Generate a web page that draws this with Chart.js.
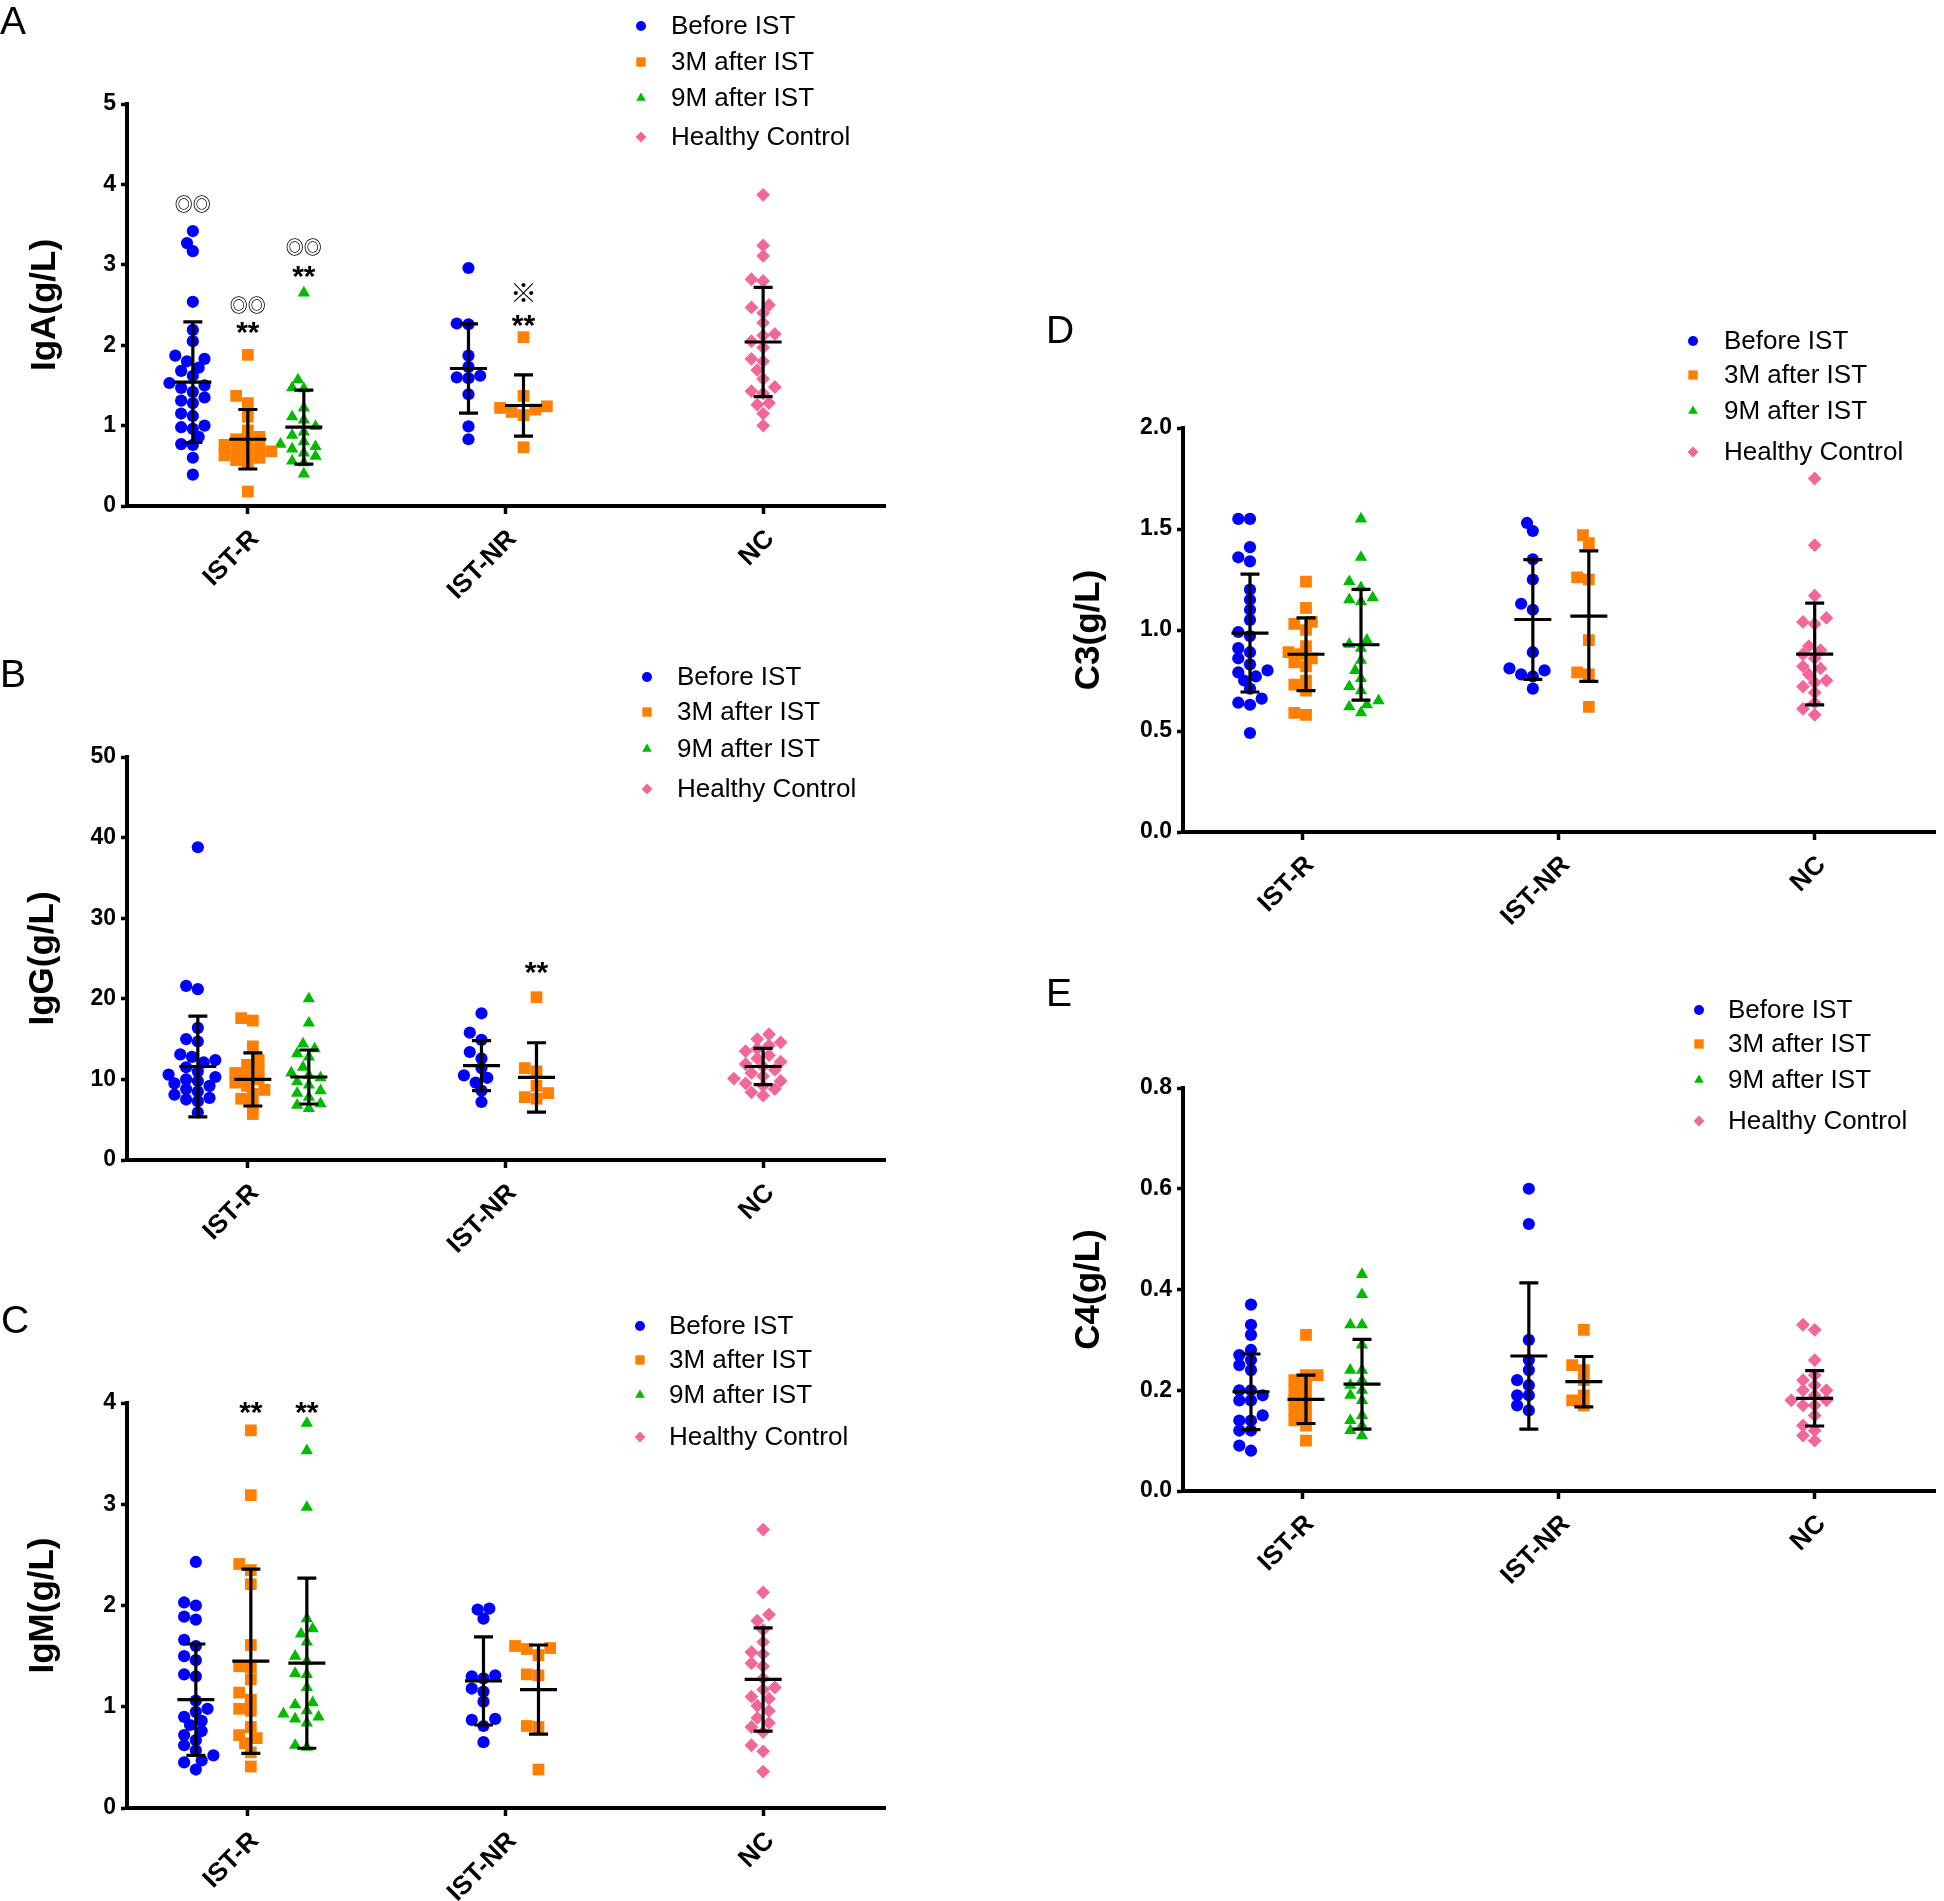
<!DOCTYPE html>
<html>
<head>
<meta charset="utf-8">
<title>IgA, IgG, IgM, C3 and C4 before and after IST</title>
<script src="https://cdn.jsdelivr.net/npm/chart.js@4.4.1/dist/chart.umd.min.js"></script>
<style>
  html, body { margin: 0; padding: 0; background: #fff; }
  #page { position: relative; width: 1944px; height: 1901px; overflow: hidden; background: #fff; }
  canvas { position: absolute; }
</style>
</head>
<body>
<div id="page">
  <canvas id="panelA" width="900" height="640" style="left:0px;top:0px"></canvas>
  <canvas id="panelB" width="900" height="650" style="left:0px;top:640px"></canvas>
  <canvas id="panelC" width="900" height="611" style="left:0px;top:1290px"></canvas>
  <canvas id="panelD" width="914" height="660" style="left:1030px;top:300px"></canvas>
  <canvas id="panelE" width="914" height="720" style="left:1030px;top:960px"></canvas>
</div>
<script>
const categories = ['IST-R', 'IST-NR', 'NC'];
const seriesNames = ['Before IST', '3M after IST', '9M after IST', 'Healthy Control'];

// each panel has six groups: IST-R before / 3M / 9M, IST-NR before / 3M, NC
const groupSeries = [0, 1, 2, 0, 1, 3];
const groupCategory = [0, 0, 0, 1, 1, 2];

// IgA (g/L)
const igaBeforeR = [3.42, 3.27, 3.17, 2.54, 2.19, 2.05, 1.87, 1.83, 1.80, 1.72, 1.68, 1.62, 1.53, 1.50, 1.47, 1.42, 1.35, 1.31, 1.28, 1.15, 1.12, 1.00, 0.98, 0.96, 0.86, 0.77, 0.76, 0.60, 0.39];
const igaM3R = [1.88, 1.37, 1.28, 1.11, 0.94, 0.86, 0.83, 0.80, 0.76, 0.72, 0.70, 0.68, 0.66, 0.63, 0.60, 0.57, 0.53, 0.18];
const igaM9R = [2.65, 1.57, 1.47, 1.46, 1.22, 1.11, 1.07, 0.99, 0.92, 0.88, 0.80, 0.77, 0.74, 0.71, 0.66, 0.62, 0.56, 0.54, 0.40];
const igaBeforeNR = [2.96, 2.27, 2.26, 1.87, 1.73, 1.62, 1.60, 1.59, 1.39, 0.99, 0.83];
const igaM3NR = [2.10, 1.37, 1.24, 1.22, 1.20, 1.17, 1.13, 0.73];
const igaNC = [3.87, 3.24, 3.11, 2.82, 2.80, 2.50, 2.47, 2.40, 2.28, 2.14, 2.12, 2.05, 1.97, 1.83, 1.80, 1.69, 1.58, 1.48, 1.43, 1.40, 1.28, 1.26, 1.15, 1.00];
const igaMean = [1.54, 0.83, 0.98, 1.71, 1.25, 2.04];
const igaSD = [0.75, 0.37, 0.46, 0.555, 0.38, 0.68];
const igaTicks = [0, 1, 2, 3, 4, 5];
const igaMarks = [[0, '◎◎', 3.76], [1, '◎◎', 2.50], [1, '**', 2.24], [2, '◎◎', 3.22], [2, '**', 2.94], [4, '※', 2.65], [4, '**', 2.33]];

// IgG (g/L)
const iggBeforeR = [38.8, 21.6, 21.2, 16.4, 15.0, 14.7, 13.1, 12.8, 12.4, 12.1, 11.5, 11.0, 10.6, 10.3, 10.0, 9.8, 9.5, 9.2, 8.8, 8.5, 8.1, 7.7, 7.5, 7.3, 5.9];
const iggM3R = [17.6, 17.3, 14.1, 12.4, 11.8, 11.2, 10.8, 10.4, 10.0, 9.6, 9.2, 8.7, 8.2, 7.6, 6.9, 5.7];
const iggM9R = [20.0, 17.0, 14.4, 13.8, 13.2, 12.8, 11.5, 10.8, 10.5, 10.2, 9.7, 9.3, 8.6, 8.3, 7.8, 7.0, 6.8, 6.4];
const iggBeforeNR = [18.2, 15.8, 14.9, 13.4, 12.6, 11.4, 10.5, 10.2, 9.6, 8.6, 7.2];
const iggM3NR = [20.2, 11.4, 11.0, 9.2, 8.3, 7.8, 7.6];
const iggNC = [15.6, 15.0, 14.6, 14.2, 13.8, 13.5, 13.0, 12.6, 12.2, 11.9, 11.6, 11.2, 10.8, 10.4, 10.1, 9.8, 9.5, 9.2, 8.8, 8.4, 8.0];
const iggMean = [11.6, 10.0, 10.3, 11.7, 10.25, 11.6];
const iggSD = [6.25, 3.3, 3.35, 3.1, 4.3, 2.25];
const iggTicks = [0, 10, 20, 30, 40, 50];
const iggMarks = [[4, '**', 24.1]];

// IgM (g/L)
const igmBeforeR = [2.43, 2.03, 2.00, 1.89, 1.86, 1.66, 1.60, 1.50, 1.46, 1.32, 1.30, 1.06, 0.98, 0.95, 0.90, 0.86, 0.82, 0.76, 0.72, 0.67, 0.62, 0.57, 0.52, 0.47, 0.45, 0.38];
const igmM3R = [3.73, 3.09, 2.41, 2.35, 2.21, 1.61, 1.40, 1.39, 1.27, 1.14, 1.07, 0.98, 0.96, 0.80, 0.72, 0.69, 0.64, 0.55, 0.41];
const igmM9R = [3.80, 3.53, 2.97, 1.87, 1.77, 1.72, 1.64, 1.50, 1.45, 1.33, 1.32, 1.19, 1.04, 1.02, 0.96, 0.93, 0.90, 0.88, 0.84, 0.62, 0.60];
const igmBeforeNR = [1.97, 1.96, 1.87, 1.31, 1.30, 1.28, 1.18, 1.15, 1.05, 0.88, 0.87, 0.81, 0.65];
const igmM3NR = [1.60, 1.58, 1.57, 1.51, 1.32, 1.31, 0.81, 0.80, 0.38];
const igmNC = [2.75, 2.13, 1.91, 1.85, 1.76, 1.64, 1.54, 1.52, 1.43, 1.40, 1.28, 1.19, 1.17, 1.10, 1.08, 1.01, 0.96, 0.89, 0.84, 0.80, 0.75, 0.62, 0.56, 0.36];
const igmMean = [1.07, 1.45, 1.43, 1.255, 1.17, 1.27];
const igmSD = [0.55, 0.91, 0.84, 0.435, 0.44, 0.51];
const igmTicks = [0, 1, 2, 3, 4];
const igmMarks = [[1, '**', 3.97], [2, '**', 3.97]];

// C3 (g/L)
const c3BeforeR = [1.55, 1.55, 1.41, 1.36, 1.34, 1.20, 1.15, 1.10, 1.05, 0.99, 0.97, 0.91, 0.89, 0.86, 0.83, 0.80, 0.79, 0.77, 0.75, 0.71, 0.66, 0.64, 0.63, 0.49];
const c3M3R = [1.24, 1.11, 1.04, 1.03, 1.00, 0.92, 0.89, 0.88, 0.86, 0.84, 0.82, 0.75, 0.73, 0.70, 0.59, 0.58];
const c3M9R = [1.55, 1.36, 1.24, 1.21, 1.16, 1.15, 1.14, 0.95, 0.93, 0.91, 0.85, 0.80, 0.76, 0.72, 0.70, 0.65, 0.63, 0.62, 0.59];
const c3BeforeNR = [1.53, 1.49, 1.35, 1.25, 1.13, 1.10, 0.89, 0.81, 0.80, 0.78, 0.77, 0.71];
const c3M3NR = [1.47, 1.43, 1.26, 1.25, 0.95, 0.79, 0.78, 0.62];
const c3NC = [1.75, 1.42, 1.17, 1.06, 1.04, 1.03, 0.92, 0.90, 0.88, 0.86, 0.82, 0.81, 0.78, 0.75, 0.74, 0.72, 0.69, 0.64, 0.61, 0.58];
const c3Mean = [0.985, 0.88, 0.927, 1.052, 1.069, 0.881];
const c3SD = [0.292, 0.18, 0.274, 0.296, 0.323, 0.252];
const c3Ticks = [0, 0.5, 1.0, 1.5, 2.0];

// C4 (g/L)
const c4BeforeR = [0.37, 0.33, 0.31, 0.28, 0.27, 0.26, 0.25, 0.24, 0.20, 0.20, 0.19, 0.18, 0.18, 0.15, 0.14, 0.14, 0.12, 0.12, 0.09, 0.08];
const c4M3R = [0.31, 0.23, 0.23, 0.22, 0.21, 0.20, 0.19, 0.18, 0.17, 0.16, 0.15, 0.14, 0.13, 0.10];
const c4M9R = [0.43, 0.39, 0.33, 0.33, 0.29, 0.24, 0.24, 0.22, 0.21, 0.20, 0.19, 0.18, 0.15, 0.14, 0.13, 0.12, 0.11];
const c4BeforeNR = [0.60, 0.53, 0.30, 0.26, 0.24, 0.22, 0.21, 0.19, 0.19, 0.17, 0.16];
const c4M3NR = [0.32, 0.25, 0.24, 0.22, 0.19, 0.18, 0.17];
const c4NC = [0.33, 0.32, 0.26, 0.23, 0.22, 0.21, 0.20, 0.20, 0.19, 0.18, 0.18, 0.17, 0.17, 0.15, 0.13, 0.12, 0.11, 0.10];
const c4Mean = [0.197, 0.182, 0.212, 0.268, 0.217, 0.184];
const c4SD = [0.075, 0.048, 0.089, 0.145, 0.05, 0.055];
const c4Ticks = [0, 0.2, 0.4, 0.6, 0.8];

// look
const FONT = "'Liberation Sans', Arial, sans-serif";
const seriesColors = ['#0000ff', '#ff7f00', '#00bb00', '#f2679a'];
const seriesShapes = ['circle', 'rect', 'triangle', 'rectRot'];
const seriesRadius = [6.1, 8.3, 7.1, 6.9];
const legendRadius = [5.0, 6.6, 5.6, 5.4];
const X_MIN = 0.531, X_MAX = 3.473;

const panels = [
  { id: 'panelA', letter: 'A', title: 'IgA(g/L)', groups: [igaBeforeR, igaM3R, igaM9R, igaBeforeNR, igaM3NR, igaNC],
    mean: igaMean, sd: igaSD, ticks: igaTicks, decimals: 0, marks: igaMarks,
    box: { left: 0, top: 0 }, area: { left: 127, top: 104, right: 885, bottom: 506 },
    slots: [-55, 0, 56, -37, 18, 0], titleX: 45, letterAt: [0, 34],
    legend: { mx: 641, tx: 671, ys: [26, 62, 98, 137] } },
  { id: 'panelB', letter: 'B', title: 'IgG(g/L)', groups: [iggBeforeR, iggM3R, iggM9R, iggBeforeNR, iggM3NR, iggNC],
    mean: iggMean, sd: iggSD, ticks: iggTicks, decimals: 0, marks: iggMarks,
    box: { left: 0, top: 640 }, area: { left: 127, top: 757, right: 885, bottom: 1160 },
    slots: [-50, 5, 61, -24, 31, 0], titleX: 43, letterAt: [0, 687],
    legend: { mx: 647, tx: 677, ys: [677, 712, 749, 789] } },
  { id: 'panelC', letter: 'C', title: 'IgM(g/L)', groups: [igmBeforeR, igmM3R, igmM9R, igmBeforeNR, igmM3NR, igmNC],
    mean: igmMean, sd: igmSD, ticks: igmTicks, decimals: 0, marks: igmMarks,
    box: { left: 0, top: 1290 }, area: { left: 127, top: 1403, right: 885, bottom: 1808 },
    slots: [-52, 3, 59, -22, 33, 0], titleX: 43, letterAt: [1, 1333],
    legend: { mx: 640, tx: 669, ys: [1326, 1360, 1395, 1437] } },
  { id: 'panelD', letter: 'D', title: 'C3(g/L)', groups: [c3BeforeR, c3M3R, c3M9R, c3BeforeNR, c3M3NR, c3NC],
    mean: c3Mean, sd: c3SD, ticks: c3Ticks, decimals: 1, marks: [],
    box: { left: 1030, top: 300 }, area: { left: 1183, top: 428, right: 1942, bottom: 832 },
    slots: [-53, 3, 58, -26, 30, 0], titleX: 1089, letterAt: [1046, 343],
    legend: { mx: 1693, tx: 1724, ys: [341, 375, 411, 452] } },
  { id: 'panelE', letter: 'E', title: 'C4(g/L)', groups: [c4BeforeR, c4M3R, c4M9R, c4BeforeNR, c4M3NR, c4NC],
    mean: c4Mean, sd: c4SD, ticks: c4Ticks, decimals: 1, marks: [],
    box: { left: 1030, top: 960 }, area: { left: 1183, top: 1088, right: 1942, bottom: 1491 },
    slots: [-52, 3, 59, -30, 25, 0], titleX: 1089, letterAt: [1046, 1006],
    legend: { mx: 1699, tx: 1728, ys: [1010, 1044, 1080, 1121] } }
];

function drawMarker(ctx, shape, r, x, y) {
  if (Chart.helpers && Chart.helpers.drawPoint) {
    Chart.helpers.drawPoint(ctx, { pointStyle: shape, radius: r, rotation: 0, borderWidth: 0 }, x, y);
  } else {
    ctx.beginPath(); ctx.arc(x, y, r, 0, Math.PI * 2); ctx.fill();
  }
}

// mean / SD bars, significance marks, rotated category labels, title, legend, letter
const panelDeco = {
  id: 'panelDeco',
  afterDatasetsDraw(chart, args, p) {
    const ctx = chart.ctx, xs = chart.scales.x, ys = chart.scales.y;
    ctx.save();
    ctx.strokeStyle = '#000';
    ctx.lineWidth = 3.2;
    p.mean.forEach((m, g) => {
      const cx = xs.getPixelForValue(groupCategory[g] + 1) + p.slots[g];
      const ym = ys.getPixelForValue(m);
      const yt = ys.getPixelForValue(m + p.sd[g]);
      const yb = ys.getPixelForValue(m - p.sd[g]);
      ctx.beginPath();
      ctx.moveTo(cx - 18.5, ym); ctx.lineTo(cx + 18.5, ym);
      ctx.moveTo(cx, yt); ctx.lineTo(cx, yb);
      ctx.moveTo(cx - 9.5, yt); ctx.lineTo(cx + 9.5, yt);
      ctx.moveTo(cx - 9.5, yb); ctx.lineTo(cx + 9.5, yb);
      ctx.stroke();
    });
    ctx.restore();
  },
  afterDraw(chart, args, p) {
    const ctx = chart.ctx, xs = chart.scales.x, ys = chart.scales.y, area = chart.chartArea;
    const ox = p.box.left, oy = p.box.top;
    ctx.save();
    ctx.fillStyle = '#000';

    // significance marks
    p.marks.forEach(([g, text, v]) => {
      const cx = xs.getPixelForValue(groupCategory[g] + 1) + p.slots[g];
      const cy = ys.getPixelForValue(v);
      ctx.textAlign = 'center';
      if (text === '**') {
        ctx.font = 'bold 30px ' + FONT;
        ctx.textBaseline = 'alphabetic';
        ctx.fillText(text, cx, cy + 16);
      } else {
        ctx.font = 'bold ' + (text === '※' ? '27px' : '18px') + " 'Noto Sans CJK SC', 'DejaVu Sans', sans-serif";
        ctx.textBaseline = 'middle';
        ctx.fillText(text, cx, cy);
      }
    });

    // category labels at 45 degrees
    ctx.font = 'bold 26px ' + FONT;
    ctx.textAlign = 'right';
    ctx.textBaseline = 'middle';
    categories.forEach((c, i) => {
      ctx.save();
      ctx.translate(xs.getPixelForValue(i + 1) + 7, area.bottom + 29);
      ctx.rotate(-Math.PI / 4);
      ctx.fillText(c, 0, 0);
      ctx.restore();
    });

    // y title
    ctx.save();
    ctx.font = 'bold 35px ' + FONT;
    ctx.textAlign = 'center';
    ctx.textBaseline = 'middle';
    ctx.translate(p.titleX - ox, (area.top + area.bottom) / 2);
    ctx.rotate(-Math.PI / 2);
    ctx.fillText(p.title, 0, 0);
    ctx.restore();

    // legend
    ctx.font = '26px ' + FONT;
    ctx.textAlign = 'left';
    ctx.textBaseline = 'middle';
    seriesNames.forEach((name, s) => {
      const y = p.legend.ys[s] - oy;
      ctx.fillStyle = seriesColors[s];
      drawMarker(ctx, seriesShapes[s], legendRadius[s], p.legend.mx - ox, y);
      ctx.fillStyle = '#000';
      ctx.fillText(name, p.legend.tx - ox, y + 1);
    });

    // panel letter
    ctx.font = '39px ' + FONT;
    ctx.textBaseline = 'alphabetic';
    ctx.fillText(p.letter, p.letterAt[0] - ox, p.letterAt[1] - oy);
    ctx.restore();
  }
};

// horizontal spread of points with close values (scatter dot plot style, overlap allowed)
function swarmOffsets(pixYs, size) {
  const order = pixYs.map((_, i) => i).sort((a, b) => pixYs[b] - pixYs[a]);
  const placed = [];
  const offs = [];
  order.forEach(i => {
    const y = pixYs[i];
    let k = 0, dx = 0;
    for (;;) {
      dx = (k % 2 ? -1 : 1) * Math.ceil(k / 2) * size * 0.9;
      if (placed.every(q => Math.hypot(q[0] - dx, q[1] - y) >= size * 1.45)) break;
      k++;
    }
    placed.push([dx, y]);
    offs[i] = dx;
  });
  return offs;
}

function buildPanel(p) {
  const canvas = document.getElementById(p.id);
  const yW = p.area.left - p.box.left;
  const xH = canvas.height - (p.area.bottom - p.box.top);

  const datasets = seriesNames.map((name, s) => ({
    label: name,
    data: [],
    pointStyle: seriesShapes[s],
    pointRadius: seriesRadius[s],
    pointBorderWidth: 0,
    backgroundColor: seriesColors[s],
    borderColor: seriesColors[s]
  }));
  p.groups.forEach((vals, g) => {
    vals.forEach(v => datasets[groupSeries[g]].data.push({ x: groupCategory[g] + 1, y: v }));
  });

  const gridOpts = (len) => ({
    display: true, drawOnChartArea: false, drawTicks: true,
    tickLength: len, tickWidth: 3.5, tickColor: '#000'
  });

  const chart = new Chart(canvas.getContext('2d'), {
    type: 'scatter',
    data: { datasets },
    options: {
      responsive: false,
      animation: false,
      events: [],
      layout: { padding: { left: 0, top: p.area.top - p.box.top, right: canvas.width - (p.area.right - p.box.left), bottom: 0 } },
      plugins: { legend: { display: false }, tooltip: { enabled: false }, panelDeco: p },
      scales: {
        x: {
          type: 'linear', min: X_MIN, max: X_MAX,
          afterBuildTicks: s => { s.ticks = categories.map((c, i) => ({ value: i + 1 })); },
          afterFit: s => { s.height = xH; },
          ticks: { display: false },
          grid: gridOpts(8),
          border: { display: true, color: '#000', width: 4 }
        },
        y: {
          min: p.ticks[0], max: p.ticks[p.ticks.length - 1],
          afterBuildTicks: s => { s.ticks = p.ticks.map(v => ({ value: v })); },
          afterFit: s => { s.width = yW; },
          ticks: {
            color: '#000', padding: 5,
            font: { family: FONT, size: 23, weight: 'bold' },
            callback: v => Number(v).toFixed(p.decimals)
          },
          grid: gridOpts(6),
          border: { display: true, color: '#000', width: 4 }
        }
      }
    },
    plugins: [panelDeco]
  });

  // second pass: spread overlapping points sideways using the real scales
  const xs = chart.scales.x, ys = chart.scales.y;
  datasets.forEach(ds => { ds.data = []; });
  p.groups.forEach((vals, g) => {
    const cx = xs.getPixelForValue(groupCategory[g] + 1) + p.slots[g];
    const offs = swarmOffsets(vals.map(v => ys.getPixelForValue(v)), 6.5);
    vals.forEach((v, i) => datasets[groupSeries[g]].data.push({ x: xs.getValueForPixel(cx + offs[i]), y: v }));
  });
  chart.update('none');
  return chart;
}

panels.forEach(buildPanel);
</script>
</body>
</html>
